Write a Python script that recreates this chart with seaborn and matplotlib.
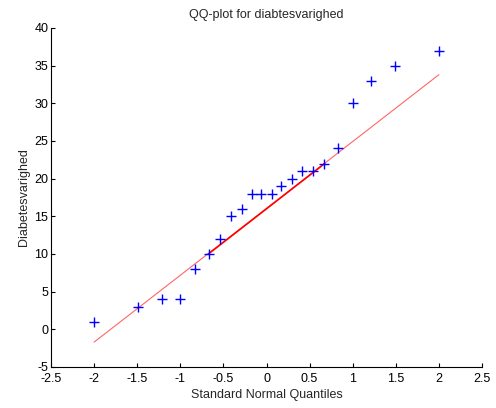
import matplotlib
matplotlib.use("Agg")
import matplotlib.pyplot as plt
import seaborn as sns
import pandas as pd

# Theoretical standard normal quantiles (x) and sample values (y)
quantiles = [-2.00, -1.49, -1.21, -1.00, -0.83, -0.67, -0.54, -0.41, -0.29, -0.17, -0.06,
             0.06, 0.17, 0.29, 0.41, 0.54, 0.67, 0.83, 1.00, 1.21, 1.49, 2.00]
values = [1, 3, 4, 4, 8, 10, 12, 15, 16, 18, 18,
          18, 19, 20, 21, 21, 22, 24, 30, 33, 35, 37]

# Reference line (extended) and the inter-quartile segment
ref_x = [-2.00, 2.00]
ref_y = [-1.7, 33.8]
iqr_x = [-0.674, 0.674]
iqr_y = [10.0, 22.0]

xticks = [-2.5, -2, -1.5, -1, -0.5, 0, 0.5, 1, 1.5, 2, 2.5]
xtick_labels = ["-2.5", "-2", "-1.5", "-1", "-0.5", "0", "0.5", "1", "1.5", "2", "2.5"]
yticks = [-5, 0, 5, 10, 15, 20, 25, 30, 35, 40]
ytick_labels = ["-5", "0", "5", "10", "15", "20", "25", "30", "35", "40"]

sns.set_style("ticks")
plt.rcParams["font.family"] = ["Liberation Sans", "DejaVu Sans"]

fig = plt.figure(figsize=(4.96, 4.08), dpi=100)
ax = fig.add_axes([0.1028, 0.1005, 0.869, 0.831])

df_pts = pd.DataFrame({"q": quantiles, "v": values})
df_ref = pd.DataFrame({"q": ref_x, "v": ref_y})
df_iqr = pd.DataFrame({"q": iqr_x, "v": iqr_y})

sns.lineplot(data=df_ref, x="q", y="v", ax=ax, color="#ff6666", linewidth=0.8, zorder=2)
sns.lineplot(data=df_iqr, x="q", y="v", ax=ax, color="#ff0000", linewidth=1.2, zorder=3)
sns.scatterplot(data=df_pts, x="q", y="v", ax=ax, marker="+", color="#0000ff",
                s=60, linewidth=1.0, zorder=4)

ax.set_xlim(-2.5, 2.5)
ax.set_ylim(-5, 40)
ax.set_xticks(xticks)
ax.set_xticklabels(xtick_labels)
ax.set_yticks(yticks)
ax.set_yticklabels(ytick_labels)
ax.tick_params(direction="in", length=3, width=0.8, labelsize=9, colors="black")
ax.tick_params(axis="x", pad=4.5)
ax.tick_params(axis="y", pad=2)
for s in ["top", "right"]:
    ax.spines[s].set_visible(False)
for s in ["left", "bottom"]:
    ax.spines[s].set_color("black")
    ax.spines[s].set_linewidth(0.8)

ax.set_xlabel("Standard Normal Quantiles", fontsize=9, labelpad=3)
ax.set_ylabel("Diabetesvarighed", fontsize=9, labelpad=3)
ax.set_title("QQ-plot for diabtesvarighed", fontsize=9, pad=7)

fig.savefig("out.png", dpi=100)
